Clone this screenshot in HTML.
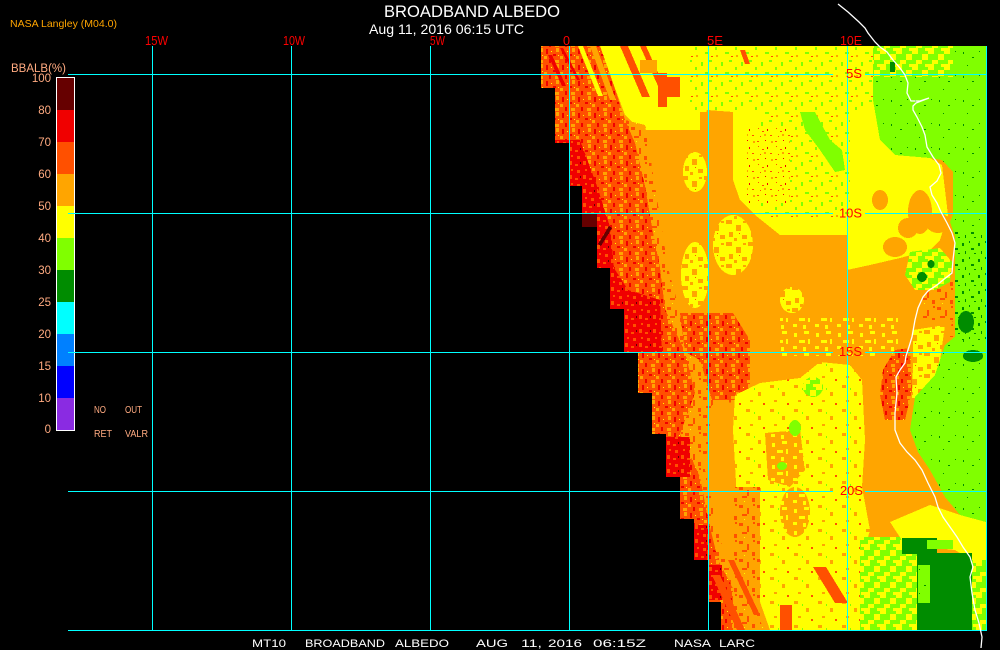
<!DOCTYPE html>
<html><head><meta charset="utf-8"><style>html,body{margin:0;padding:0;background:#000;}svg{display:block}</style></head><body>
<svg width="1000" height="650" viewBox="0 0 1000 650" xmlns="http://www.w3.org/2000/svg">
<defs>
<pattern id="gs" width="20" height="20" patternUnits="userSpaceOnUse"><rect x="1" y="2" width="2" height="4" fill="#80ff00"/><rect x="9" y="0" width="3" height="2" fill="#80ff00"/><rect x="15" y="7" width="2" height="3" fill="#80ff00"/><rect x="5" y="12" width="4" height="2" fill="#80ff00"/><rect x="16" y="15" width="2" height="2" fill="#ffa500"/><rect x="11" y="16" width="2" height="1" fill="#ff5000"/></pattern>
<pattern id="yo" width="22" height="22" patternUnits="userSpaceOnUse"><rect width="22" height="22" fill="#ffff00"/><rect x="0" y="0" width="6" height="4" fill="#ffa500"/><rect x="10" y="5" width="5" height="6" fill="#ffa500"/><rect x="3" y="12" width="4" height="5" fill="#ffa500"/><rect x="16" y="15" width="5" height="4" fill="#ffa500"/><rect x="17" y="1" width="3" height="2" fill="#ffa500"/><rect x="8" y="18" width="3" height="3" fill="#ffa500"/><rect x="13" y="13" width="1" height="1" fill="#ff5000"/></pattern>
<pattern id="yo2" width="24" height="24" patternUnits="userSpaceOnUse"><rect width="24" height="24" fill="#ffff00"/><rect x="2" y="1" width="4" height="3" fill="#ffa500"/><rect x="14" y="8" width="3" height="4" fill="#ffa500"/><rect x="6" y="16" width="3" height="2" fill="#ffa500"/><rect x="19" y="19" width="2" height="2" fill="#ff5000"/><rect x="10" y="4" width="1" height="2" fill="#80ff00"/></pattern>
<pattern id="oy" width="22" height="22" patternUnits="userSpaceOnUse"><rect width="22" height="22" fill="#ffa500"/><rect x="2" y="3" width="3" height="4" fill="#ffff00"/><rect x="12" y="1" width="5" height="3" fill="#ffff00"/><rect x="7" y="10" width="6" height="3" fill="#ffff00"/><rect x="16" y="9" width="2" height="5" fill="#ffff00"/><rect x="1" y="16" width="4" height="3" fill="#ffff00"/><rect x="11" y="17" width="3" height="4" fill="#ffff00"/></pattern>
<pattern id="orp" width="16" height="16" patternUnits="userSpaceOnUse"><rect width="16" height="16" fill="#ff5000"/><rect x="2" y="1" width="2" height="5" fill="#f00000"/><rect x="9" y="6" width="3" height="2" fill="#f00000"/><rect x="5" y="11" width="2" height="4" fill="#f00000"/><rect x="12" y="0" width="3" height="4" fill="#ffa500"/><rect x="0" y="8" width="3" height="3" fill="#ffa500"/><rect x="11" y="12" width="4" height="3" fill="#ffa500"/><rect x="7" y="3" width="1" height="1" fill="#ffff00"/><rect x="14" y="7" width="1" height="1" fill="#ffff00"/></pattern>
<pattern id="oor" width="18" height="18" patternUnits="userSpaceOnUse"><rect width="18" height="18" fill="#ffa500"/><rect x="1" y="1" width="4" height="3" fill="#ff5000"/><rect x="9" y="4" width="2" height="6" fill="#ff5000"/><rect x="4" y="10" width="5" height="2" fill="#ff5000"/><rect x="14" y="12" width="3" height="4" fill="#ff5000"/><rect x="15" y="0" width="2" height="2" fill="#ff5000"/><rect x="6" y="15" width="1" height="1" fill="#ffff00"/></pattern>
<pattern id="rp" width="14" height="14" patternUnits="userSpaceOnUse"><rect width="14" height="14" fill="#f00000"/><rect x="3" y="2" width="3" height="3" fill="#ff5000"/><rect x="9" y="7" width="3" height="4" fill="#ff5000"/><rect x="1" y="10" width="3" height="2" fill="#ff5000"/><rect x="11" y="1" width="2" height="2" fill="#ff5000"/><rect x="6" y="8" width="1" height="2" fill="#660000"/></pattern>
<pattern id="lgd" width="24" height="24" patternUnits="userSpaceOnUse"><rect width="24" height="24" fill="#80ff00"/><rect x="3" y="4" width="1" height="2" fill="#008c00"/><rect x="12" y="9" width="2" height="1" fill="#008c00"/><rect x="7" y="17" width="1" height="1" fill="#008c00"/><rect x="19" y="3" width="1" height="1" fill="#008c00"/></pattern>
<pattern id="lgd2" width="16" height="16" patternUnits="userSpaceOnUse"><rect width="16" height="16" fill="#80ff00"/><rect x="2" y="3" width="2" height="3" fill="#008c00"/><rect x="9" y="1" width="1" height="2" fill="#008c00"/><rect x="11" y="8" width="3" height="2" fill="#008c00"/><rect x="5" y="11" width="1" height="3" fill="#008c00"/><rect x="14" y="13" width="2" height="1" fill="#008c00"/></pattern>
<pattern id="gy" width="16" height="16" patternUnits="userSpaceOnUse"><rect width="16" height="16" fill="#80ff00"/><rect x="0" y="0" width="6" height="6" fill="#ffff00"/><rect x="10" y="6" width="6" height="6" fill="#ffff00"/><rect x="4" y="12" width="6" height="4" fill="#ffff00"/><rect x="13" y="0" width="3" height="3" fill="#ffff00"/></pattern>
<pattern id="ys" width="18" height="18" patternUnits="userSpaceOnUse"><rect width="18" height="18" fill="#ffff00"/><rect x="2" y="2" width="1" height="1" fill="#ff5000"/><rect x="6" y="5" width="2" height="1" fill="#ff5000"/><rect x="11" y="3" width="1" height="2" fill="#f00000"/><rect x="4" y="10" width="1" height="1" fill="#ff5000"/><rect x="14" y="9" width="2" height="1" fill="#ff5000"/><rect x="9" y="14" width="1" height="1" fill="#f00000"/><rect x="1" y="15" width="2" height="1" fill="#ff5000"/><rect x="15" y="15" width="2" height="2" fill="#ffa500"/><rect x="8" y="8" width="2" height="2" fill="#ffa500"/></pattern>
<clipPath id="dc"><polygon points="541,46 986,46 986,630 721,630 721,602 708,602 708,560 694,560 694,519 680,519 680,477 666,477 666,434 652,434 652,393 638,393 638,352 624,352 624,309 610,309 610,268 597,268 597,227 582,227 582,186 569,186 569,143 555,143 555,88 541,88"/></clipPath>
</defs>
<rect width="1000" height="650" fill="#000"/>

<g clip-path="url(#dc)" shape-rendering="crispEdges">
  <rect x="530" y="40" width="460" height="600" fill="#ffa500"/>
  <polygon fill="#ffff00" points="600,46 986,46 986,77 873,77 873,100 880,140 895,155 930,158 942,165 945,190 948,215 940,240 930,250 900,258 870,265 847,270 847,235 780,235 755,215 740,200 733,180 733,112 707,110 700,130 640,130 625,115 612,80"/>
  <rect x="690" y="46" width="183" height="64" fill="url(#gs)"/>
  <rect x="760" y="110" width="90" height="110" fill="url(#gs)"/>
  <polygon fill="url(#gs)" points="790,110 847,110 847,172 830,178 815,160 800,140 790,125"/>
  <polygon fill="#80ff00" points="800,112 815,112 830,140 842,150 845,170 835,172 820,150 805,130"/>
  <rect x="747" y="127" width="43" height="76" fill="url(#ys)"/>
  <rect x="873" y="46" width="80" height="31" fill="url(#gy)"/>
  <polygon fill="#ff5000" points="620,46 628,46 650,97 642,97"/>
  <polygon fill="#ff5000" points="640,46 646,46 664,86 658,86"/>
  <rect x="658" y="73" width="9" height="34" fill="#ff5000"/>
  <rect x="667" y="77" width="13" height="20" fill="#ff5000"/>
  <rect x="640" y="60" width="17" height="13" fill="#ffa500"/>
  <polygon fill="#ff5000" points="740,50 745,50 750,64 745,64"/>
  <rect x="700" y="112" width="33" height="18" fill="#ffa500"/>
  <polygon fill="url(#orp)" points="530,46 600,46 612,80 625,120 635,143 645,186 652,227 660,268 665,309 685,352 695,393 680,434 700,477 708,519 718,560 740,602 748,630 530,630"/>
  <polygon fill="#ffff00" points="578,46 583,46 603,96 598,96"/>
  <polygon fill="#ffa500" points="590,46 596,46 616,100 610,100"/>
  <polygon fill="#ffff00" points="604,52 609,52 624,92 619,92"/>
  <polygon fill="#f00000" points="548,55 552,55 566,86 562,86"/>
  <polygon fill="#f00000" points="560,48 563,48 580,80 577,80"/>
  <polygon fill="url(#oor)" points="625,120 645,125 655,186 668,268 685,330 705,340 750,340 750,400 712,405 705,470 725,560 765,630 748,630 740,602 718,560 708,519 700,477 680,434 695,393 685,352 665,309 660,268 652,227 645,186 635,143"/>
  <polygon fill="url(#orp)" points="680,313 733,313 750,340 750,400 712,400 700,360 685,352"/>
  <polygon fill="url(#rp)" points="540,140 580,140 597,186 610,227 614,268 628,290 660,300 662,352 540,352"/>
  <rect x="666" y="437" width="24" height="40" fill="url(#rp)"/>
  <rect x="693" y="525" width="14" height="35" fill="url(#rp)"/>
  <rect x="708" y="565" width="14" height="35" fill="url(#rp)"/>
  <rect x="582" y="213" width="15" height="14" fill="#660000"/>
  <polygon fill="#660000" points="598,244 609,226 612,228 601,246"/>
  <ellipse cx="733" cy="245" rx="20" ry="30" fill="url(#yo)"/>
  <ellipse cx="695" cy="275" rx="14" ry="33" fill="url(#yo)"/>
  <ellipse cx="695" cy="172" rx="12" ry="20" fill="url(#yo)"/>
  <ellipse cx="792" cy="300" rx="12" ry="13" fill="url(#yo)"/>
  <ellipse cx="920" cy="212" rx="12" ry="22" fill="#ffa500"/>
  <ellipse cx="908" cy="228" rx="10" ry="10" fill="#ffa500"/>
  <ellipse cx="938" cy="223" rx="12" ry="10" fill="#ffa500"/>
  <ellipse cx="895" cy="247" rx="12" ry="10" fill="#ffa500"/>
  <ellipse cx="880" cy="200" rx="8" ry="10" fill="#ffa500"/>
  <polygon fill="#ffa500" points="847,270 877,283 917,293 950,280 958,290 960,335 945,350 913,350 880,353 847,352"/>
  <rect x="923" y="280" width="35" height="57" fill="url(#oor)"/>
  <polygon fill="url(#gy)" points="910,252 940,248 952,262 950,282 935,290 915,290 905,275"/>
  <ellipse cx="922" cy="277" rx="5" ry="5" fill="#008c00"/>
  <ellipse cx="931" cy="264" rx="3.5" ry="4" fill="#008c00"/>
  <rect x="780" y="318" width="120" height="38" fill="url(#oy)"/>
  <polygon fill="#ffa500" points="862,380 875,355 905,353 913,320 953,320 945,345 935,375 915,397 910,430 918,452 930,470 945,497 930,505 890,522 880,540 862,487 865,440"/>
  <polygon fill="url(#yo)" points="913,330 945,325 938,375 918,398 912,398 913,360"/>
  <polygon fill="url(#orp)" points="883,370 895,350 910,348 912,390 905,420 885,420 880,395"/>
  <polygon fill="url(#yo2)" points="735,395 760,383 800,378 820,362 850,365 862,380 865,440 862,487 870,530 862,560 860,630 770,630 745,560 737,500 733,430"/>
  <polygon fill="url(#oy)" points="765,433 800,430 805,470 790,487 768,480"/>
  <rect x="733" y="487" width="27" height="143" fill="url(#oor)"/>
  <ellipse cx="795" cy="512" rx="15" ry="25" fill="url(#oy)"/>
  <polygon fill="#ff5000" points="813,567 826,567 848,603 835,603"/>
  <polygon fill="#ff5000" points="712,575 720,575 745,630 737,630"/>
  <polygon fill="#ff5000" points="728,560 734,560 760,615 754,615"/>
  <rect x="780" y="605" width="12" height="25" fill="#ff5000"/>
  <ellipse cx="813" cy="387" rx="10" ry="10" fill="url(#gy)"/>
  <ellipse cx="795" cy="428" rx="6" ry="8" fill="#80ff00"/>
  <ellipse cx="782" cy="466" rx="5" ry="4" fill="#80ff00"/>
  <polygon fill="url(#gy)" points="860,537 902,537 917,553 917,630 860,630"/>
  <polygon fill="url(#lgd)" points="953,46 986,46 986,522 960,515 945,497 930,470 918,452 910,430 915,397 935,375 945,345 957,335 960,290 955,270 958,245 950,222 953,215 953,172 942,160 930,158 895,155 880,140 873,100 873,77 953,77"/>
  <rect x="955" y="230" width="31" height="110" fill="url(#lgd2)"/>
  <ellipse cx="966" cy="322" rx="8" ry="11" fill="#008c00"/>
  <ellipse cx="973" cy="356" rx="10" ry="6" fill="#008c00"/>
  <rect x="890" y="62" width="5" height="10" fill="#008c00"/>
  <polygon fill="#ffff00" points="890,522 930,505 960,515 986,522 986,580 975,562 955,550 905,545"/>
  <rect x="972" y="560" width="14" height="70" fill="url(#gy)"/>
  <rect x="917" y="553" width="55" height="77" fill="#008c00"/>
  <rect x="902" y="538" width="35" height="16" fill="#008c00"/>
  <rect x="918" y="565" width="12" height="38" fill="url(#lgd)"/>
  <rect x="927" y="540" width="26" height="9" fill="#80ff00"/>
</g>

<g shape-rendering="crispEdges">
  <rect x="57" y="78" width="17" height="32" fill="#660000"/>
  <rect x="57" y="110" width="17" height="32" fill="#f00000"/>
  <rect x="57" y="142" width="17" height="32" fill="#ff5000"/>
  <rect x="57" y="174" width="17" height="32" fill="#ffa500"/>
  <rect x="57" y="206" width="17" height="32" fill="#ffff00"/>
  <rect x="57" y="238" width="17" height="32" fill="#80ff00"/>
  <rect x="57" y="270" width="17" height="32" fill="#008c00"/>
  <rect x="57" y="302" width="17" height="32" fill="#00ffff"/>
  <rect x="57" y="334" width="17" height="32" fill="#0080ff"/>
  <rect x="57" y="366" width="17" height="32" fill="#0000ff"/>
  <rect x="57" y="398" width="17" height="32" fill="#8a2be2"/>
  <rect x="56.5" y="77.5" width="18" height="353" fill="none" stroke="#fff" stroke-width="1"/>
</g>

<g stroke="#00ffff" stroke-width="1" shape-rendering="crispEdges">
  <line x1="152.5" y1="46" x2="152.5" y2="631"/>
  <line x1="291.5" y1="46" x2="291.5" y2="631"/>
  <line x1="430.5" y1="46" x2="430.5" y2="631"/>
  <line x1="569.5" y1="46" x2="569.5" y2="631"/>
  <line x1="708.5" y1="46" x2="708.5" y2="631"/>
  <line x1="847.5" y1="46" x2="847.5" y2="631"/>
  <line x1="986.5" y1="46" x2="986.5" y2="631"/>
  <line x1="68" y1="74.5" x2="833" y2="74.5"/><line x1="865" y1="74.5" x2="987" y2="74.5"/>
  <line x1="68" y1="213.5" x2="833" y2="213.5"/><line x1="865" y1="213.5" x2="987" y2="213.5"/>
  <line x1="68" y1="352.5" x2="833" y2="352.5"/><line x1="865" y1="352.5" x2="987" y2="352.5"/>
  <line x1="68" y1="491.5" x2="833" y2="491.5"/><line x1="865" y1="491.5" x2="987" y2="491.5"/>
  <line x1="68" y1="630.5" x2="987" y2="630.5"/>
</g>

<polyline fill="none" stroke="#fff" stroke-width="1.3" points="838,4 848,12 859,22 865,28 868,33 875,42 880,47 887,52 893,60 900,68 905,75 908,83 907,93 911,101 920,101 929,98 916,103 913,106 913,110 917,117 922,127 925,135 927,147 933,157 939,165 941,173 937,181 930,187 932,195 937,203 941,212 947,223 952,233 955,243 953,260 952,273 943,280 937,285 928,291 923,297 918,308 915,320 912,337 908,350 906,356 905,363 900,370 896,377 897,393 895,413 895,430 900,443 907,452 915,460 922,470 928,483 935,497 938,507 943,517 950,527 957,537 963,547 970,557 973,567 970,577 972,593 975,610 979,623 982,637 981,648"/>

<g font-family="Liberation Sans, sans-serif">
  <text x="384" y="17" font-size="16.5" fill="#fff" textLength="176" lengthAdjust="spacingAndGlyphs">BROADBAND ALBEDO</text>
  <text x="369" y="34" font-size="14" fill="#fff" textLength="155" lengthAdjust="spacingAndGlyphs">Aug 11, 2016 06:15 UTC</text>
  <text x="10" y="27" font-size="10.5" fill="#ffa500" textLength="107" lengthAdjust="spacingAndGlyphs">NASA Langley (M04.0)</text>

  <g fill="#ff0000" font-size="12.5">
    <text x="145" y="45" textLength="23" lengthAdjust="spacingAndGlyphs">15W</text>
    <text x="283" y="45" textLength="22" lengthAdjust="spacingAndGlyphs">10W</text>
    <text x="430" y="45" textLength="15" lengthAdjust="spacingAndGlyphs">5W</text>
    <text x="563" y="45" textLength="7" lengthAdjust="spacingAndGlyphs">0</text>
    <text x="707" y="45" textLength="16" lengthAdjust="spacingAndGlyphs">5E</text>
    <text x="840" y="45" textLength="22" lengthAdjust="spacingAndGlyphs">10E</text>
    <text x="846" y="78" textLength="16" lengthAdjust="spacingAndGlyphs">5S</text>
    <text x="839" y="217.5" textLength="23" lengthAdjust="spacingAndGlyphs">10S</text>
    <text x="839" y="356" textLength="23" lengthAdjust="spacingAndGlyphs">15S</text>
    <text x="840" y="495" textLength="23" lengthAdjust="spacingAndGlyphs">20S</text>
  </g>

  <g fill="#ffaa80" font-size="11.5">
    <text x="11" y="72" textLength="55" lengthAdjust="spacingAndGlyphs">BBALB(%)</text>
    <g text-anchor="end">
      <text x="51" y="82">100</text>
      <text x="51" y="114">80</text>
      <text x="51" y="146">70</text>
      <text x="51" y="178">60</text>
      <text x="51" y="210">50</text>
      <text x="51" y="242">40</text>
      <text x="51" y="274">30</text>
      <text x="51" y="306">25</text>
      <text x="51" y="338">20</text>
      <text x="51" y="370">15</text>
      <text x="51" y="402">10</text>
      <text x="51" y="433">0</text>
    </g>
  </g>
  <g fill="#ffaa80" font-size="10">
    <text x="94" y="413" textLength="12" lengthAdjust="spacingAndGlyphs">NO</text>
    <text x="125" y="413" textLength="17" lengthAdjust="spacingAndGlyphs">OUT</text>
    <text x="94" y="437" textLength="18" lengthAdjust="spacingAndGlyphs">RET</text>
    <text x="125" y="437" textLength="23" lengthAdjust="spacingAndGlyphs">VALR</text>
  </g>

  <g fill="#fff" font-size="11">
    <text x="252" y="647" textLength="34" lengthAdjust="spacingAndGlyphs">MT10</text>
    <text x="305" y="647" textLength="80" lengthAdjust="spacingAndGlyphs">BROADBAND</text>
    <text x="395" y="647" textLength="54" lengthAdjust="spacingAndGlyphs">ALBEDO</text>
    <text x="476" y="647" textLength="32" lengthAdjust="spacingAndGlyphs">AUG</text>
    <text x="521" y="647" textLength="21" lengthAdjust="spacingAndGlyphs">11,</text>
    <text x="548" y="647" textLength="34" lengthAdjust="spacingAndGlyphs">2016</text>
    <text x="593" y="647" textLength="53" lengthAdjust="spacingAndGlyphs">06:15Z</text>
    <text x="674" y="647" textLength="37" lengthAdjust="spacingAndGlyphs">NASA</text>
    <text x="719" y="647" textLength="36" lengthAdjust="spacingAndGlyphs">LARC</text>
  </g>
</g>
</svg>
</body></html>
